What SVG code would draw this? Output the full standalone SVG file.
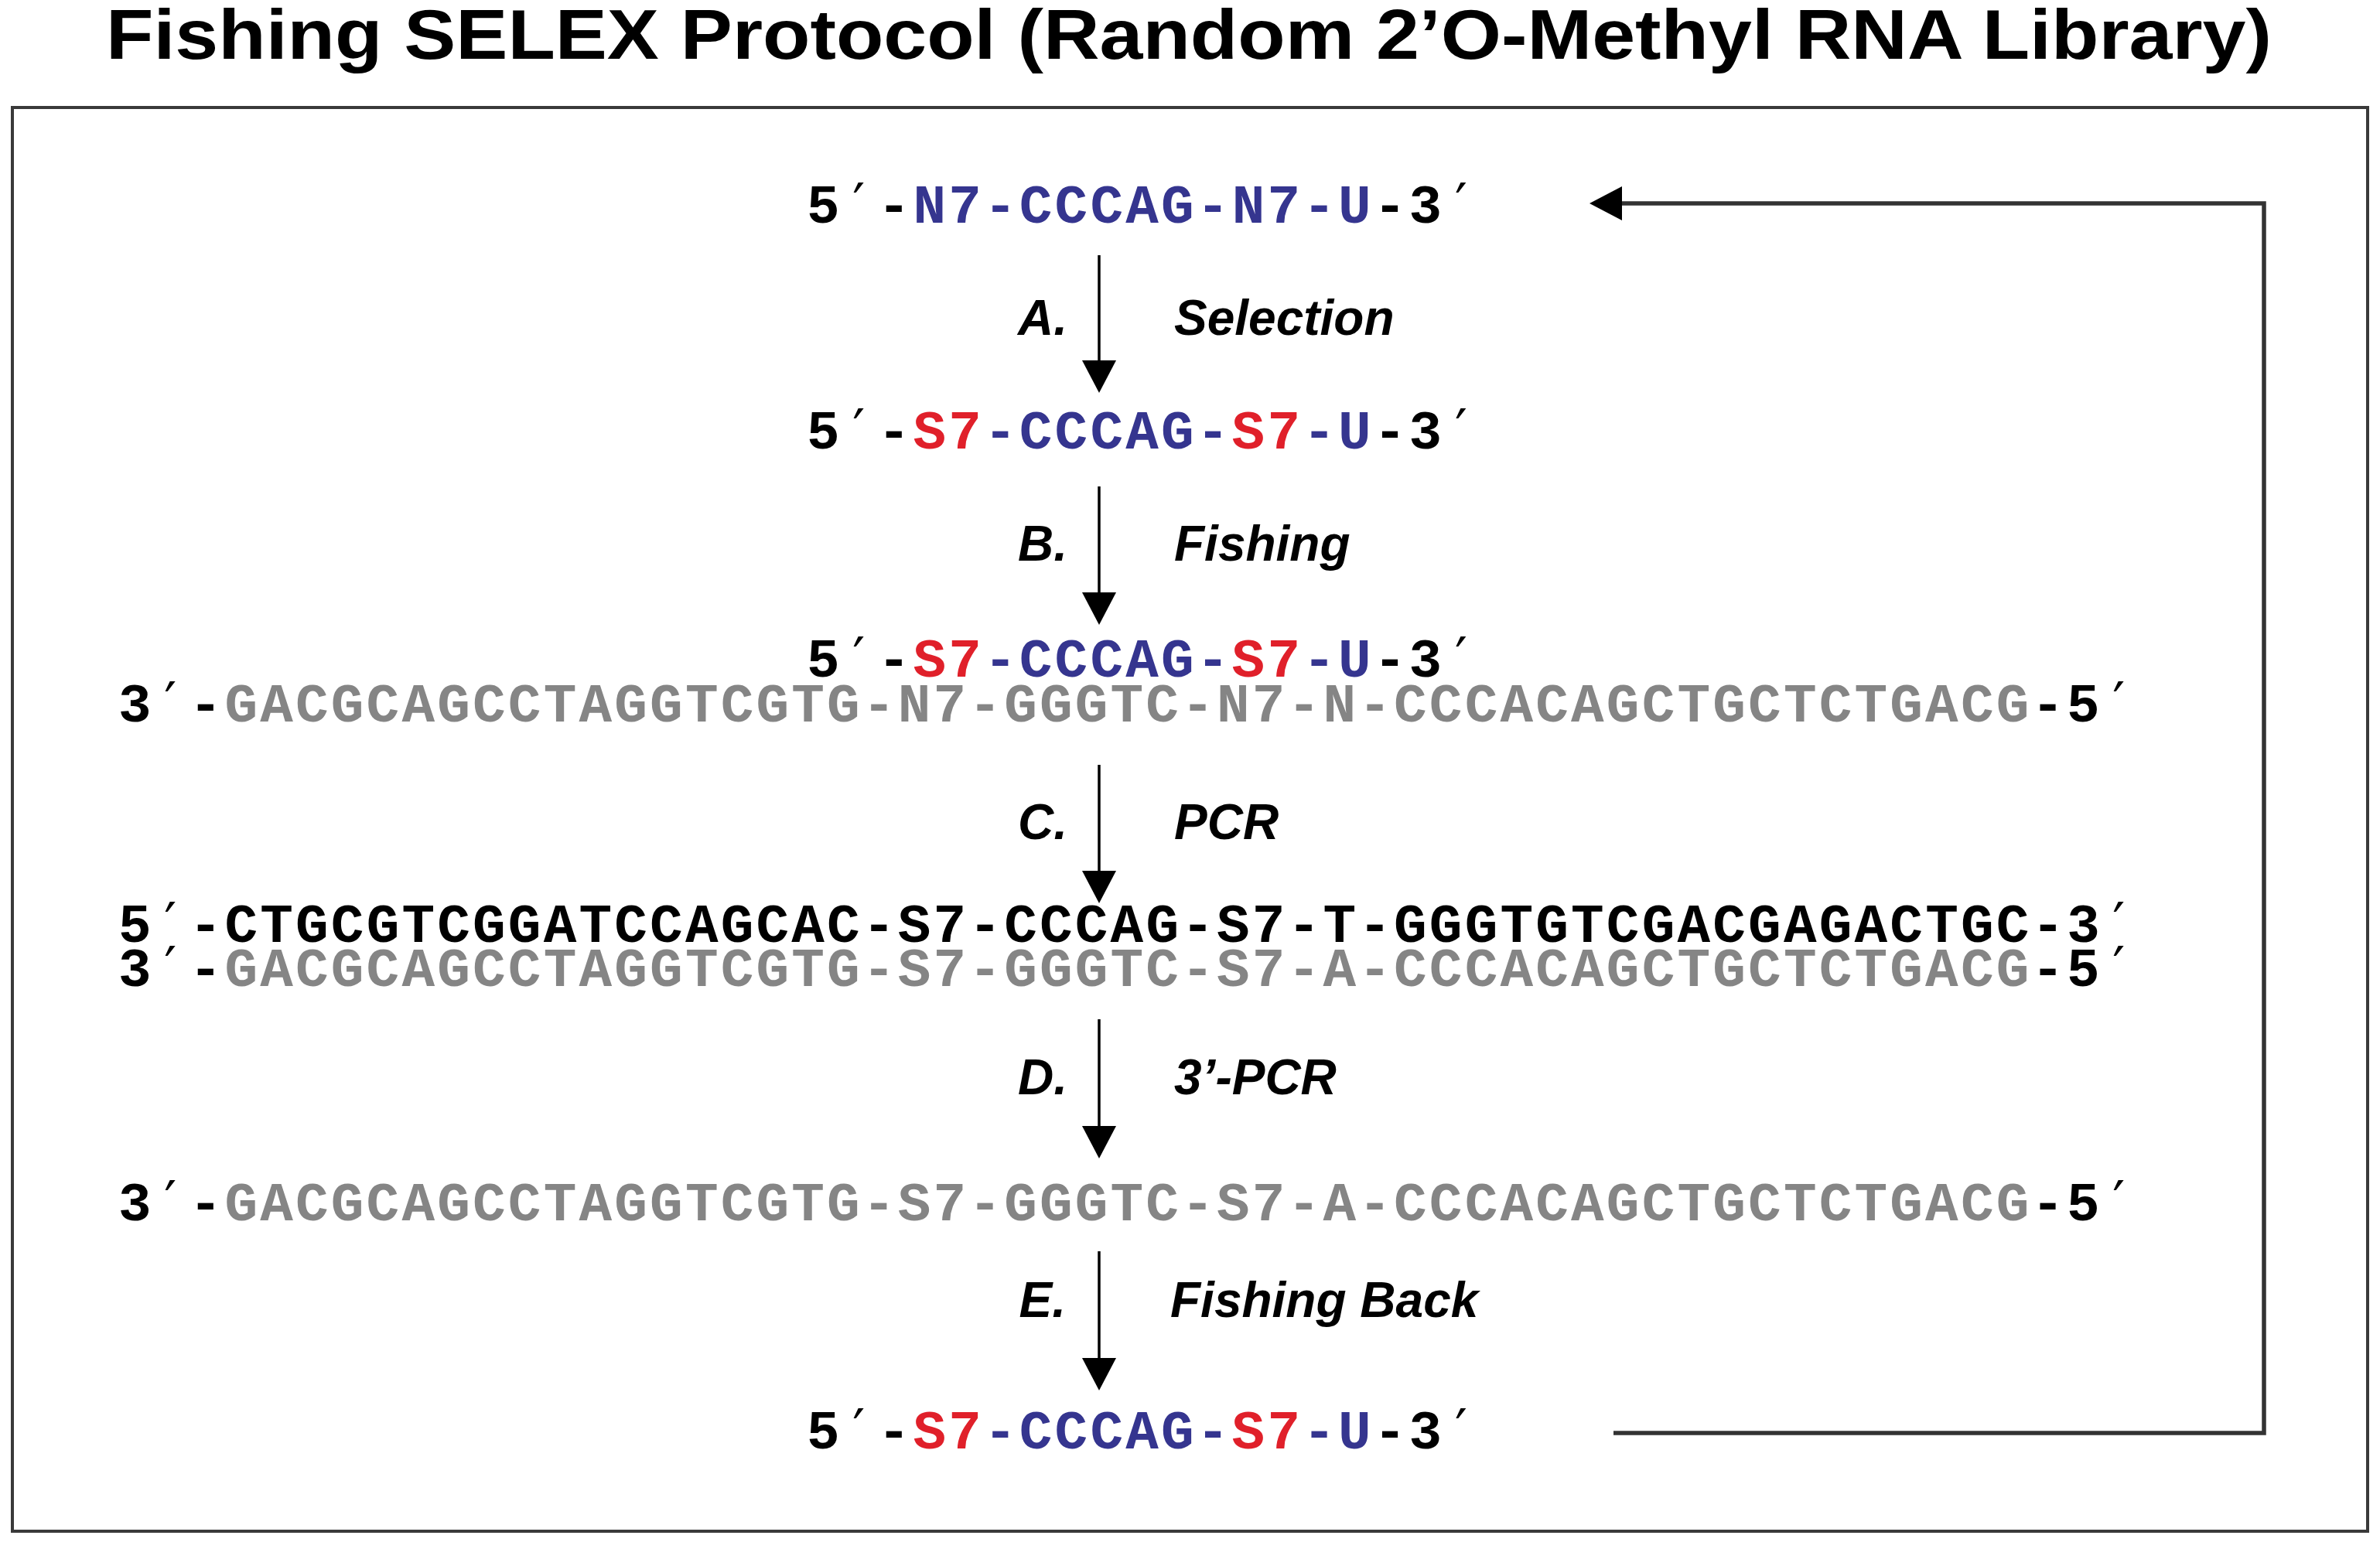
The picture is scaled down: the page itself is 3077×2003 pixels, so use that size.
<svg xmlns="http://www.w3.org/2000/svg" width="3077" height="2003" viewBox="0 0 3077 2003">
<style>
.seq{font-family:"Liberation Mono","DejaVu Sans Mono",monospace;font-weight:bold;font-size:71px;letter-spacing:3.2px;fill:#000}
.p{font-family:"DejaVu Sans Mono","Liberation Mono",monospace;font-weight:normal;fill:#000}
.b{fill:#35358f}
.r{fill:#e0202a}
.g{fill:#858585}
.k{fill:#000}
.lbl{font-family:"Liberation Sans",Arial,sans-serif;font-weight:bold;font-style:italic;font-size:64px;fill:#000}
.title{font-family:"Liberation Sans",Arial,sans-serif;font-weight:bold;font-size:90px;fill:#000}
.arr{stroke:#000;stroke-width:3.5;fill:none}
.loop{stroke:#333;stroke-width:5.5;fill:none}
</style>
<defs>
<marker id="ah" markerUnits="userSpaceOnUse" markerWidth="44" markerHeight="46" refX="0" refY="22" orient="auto" viewBox="0 0 44 46">
<path d="M0,0 L42,22 L0,44 z" fill="#000"/>
</marker>
</defs>
<rect width="3077" height="2003" fill="#fff"/>
<g id="title"><text class="title" x="1537" y="76" text-anchor="middle" textLength="2800" lengthAdjust="spacingAndGlyphs">Fishing SELEX Protocol (Random 2’O-Methyl RNA Library)</text></g>
<g id="frame"><rect x="16" y="139" width="3045" height="1841" fill="none" stroke="#3a3a3a" stroke-width="4"/></g>

<g id="seq1"><text class="seq" y="288"><tspan x="1043">5</tspan><tspan x="1088.8" class="p">′</tspan><tspan x="1134.6">-</tspan><tspan x="1180.4" class="b">N7-CCCAG-N7-U</tspan><tspan x="1775.8">-3</tspan><tspan x="1867.4" class="p">′</tspan></text></g>
<g id="seq2"><text class="seq" y="580"><tspan x="1043">5</tspan><tspan x="1088.8" class="p">′</tspan><tspan x="1134.6">-</tspan><tspan x="1180.4" class="r">S7</tspan><tspan x="1272" class="b">-CCCAG-</tspan><tspan x="1592.6" class="r">S7</tspan><tspan x="1684.2" class="b">-U</tspan><tspan x="1775.8">-3</tspan><tspan x="1867.4" class="p">′</tspan></text></g>
<g id="seq3"><text class="seq" y="875"><tspan x="1043">5</tspan><tspan x="1088.8" class="p">′</tspan><tspan x="1134.6">-</tspan><tspan x="1180.4" class="r">S7</tspan><tspan x="1272" class="b">-CCCAG-</tspan><tspan x="1592.6" class="r">S7</tspan><tspan x="1684.2" class="b">-U</tspan><tspan x="1775.8">-3</tspan><tspan x="1867.4" class="p">′</tspan></text></g>
<g id="seq4"><text class="seq" y="933"><tspan x="153">3</tspan><tspan x="198.8" class="p">′</tspan><tspan x="244.6">-</tspan><tspan x="290.4" class="g">GACGCAGCCTAGGTCGTG-N7-GGGTC-N7-N-CCCACAGCTGCTCTGACG</tspan><tspan x="2626.2">-5</tspan><tspan x="2717.8" class="p">′</tspan></text></g>
<g id="seq5"><text class="seq" y="1218"><tspan x="153">5</tspan><tspan x="198.8" class="p">′</tspan><tspan x="244.6">-CTGCGTCGGATCCAGCAC-S7-CCCAG-S7-T-GGGTGTCGACGAGACTGC-3</tspan><tspan x="2717.8" class="p">′</tspan></text></g>
<g id="seq6"><text class="seq" y="1275"><tspan x="153">3</tspan><tspan x="198.8" class="p">′</tspan><tspan x="244.6">-</tspan><tspan x="290.4" class="g">GACGCAGCCTAGGTCGTG-S7-GGGTC-S7-A-CCCACAGCTGCTCTGACG</tspan><tspan x="2626.2">-5</tspan><tspan x="2717.8" class="p">′</tspan></text></g>
<g id="seq7"><text class="seq" y="1578"><tspan x="153">3</tspan><tspan x="198.8" class="p">′</tspan><tspan x="244.6">-</tspan><tspan x="290.4" class="g">GACGCAGCCTAGGTCGTG-S7-GGGTC-S7-A-CCCACAGCTGCTCTGACG</tspan><tspan x="2626.2">-5</tspan><tspan x="2717.8" class="p">′</tspan></text></g>
<g id="seq8"><text class="seq" y="1873"><tspan x="1043">5</tspan><tspan x="1088.8" class="p">′</tspan><tspan x="1134.6">-</tspan><tspan x="1180.4" class="r">S7</tspan><tspan x="1272" class="b">-CCCAG-</tspan><tspan x="1592.6" class="r">S7</tspan><tspan x="1684.2" class="b">-U</tspan><tspan x="1775.8">-3</tspan><tspan x="1867.4" class="p">′</tspan></text></g>

<g id="connectors">
<line class="arr" x1="1421" y1="330" x2="1421" y2="466" marker-end="url(#ah)"/>
<line class="arr" x1="1421" y1="629" x2="1421" y2="766" marker-end="url(#ah)"/>
<line class="arr" x1="1421" y1="989" x2="1421" y2="1126" marker-end="url(#ah)"/>
<line class="arr" x1="1421" y1="1318" x2="1421" y2="1456" marker-end="url(#ah)"/>
<line class="arr" x1="1421" y1="1618" x2="1421" y2="1756" marker-end="url(#ah)"/>
<path class="loop" d="M2086,1853 H2927 V263 H2097" marker-end="url(#ah)"/>
<text class="lbl" x="1380" y="433" text-anchor="end">A.</text>
<text class="lbl" x="1518" y="433">Selection</text>
<text class="lbl" x="1380" y="725" text-anchor="end">B.</text>
<text class="lbl" x="1518" y="725">Fishing</text>
<text class="lbl" x="1380" y="1085" text-anchor="end">C.</text>
<text class="lbl" x="1518" y="1085">PCR</text>
<text class="lbl" x="1380" y="1415" text-anchor="end">D.</text>
<text class="lbl" x="1518" y="1415">3’-PCR</text>
<text class="lbl" x="1378" y="1703" text-anchor="end">E.</text>
<text class="lbl" x="1513" y="1703">Fishing Back</text>
</g>
</svg>
